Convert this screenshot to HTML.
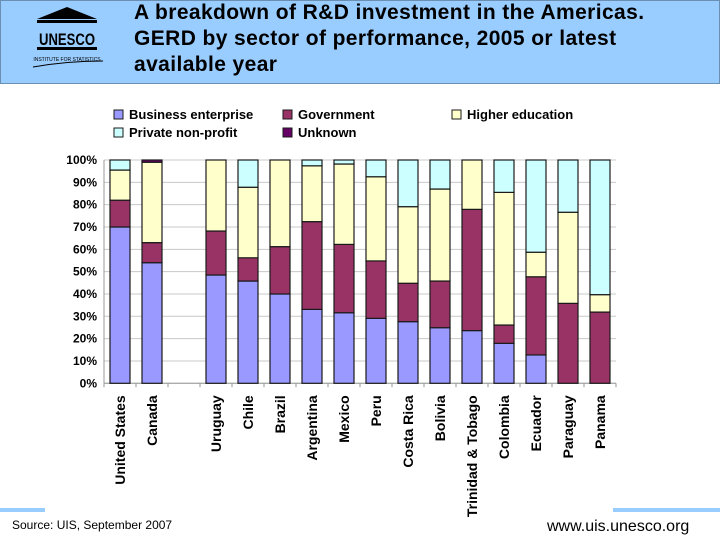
<!DOCTYPE html>
<html><head><meta charset="utf-8"><style>
body{margin:0;width:720px;height:540px;background:#fff;overflow:hidden;font-family:"Liberation Sans",sans-serif;position:relative}
#hdr{position:absolute;left:0;top:0;width:718px;height:82px;background:#99CCFF;border:1px solid #6b8fb3}
#title{position:absolute;left:133px;top:-1px;font-size:21px;letter-spacing:0.4px;font-weight:bold;line-height:26px;color:#000}
</style></head><body>
<div id="hdr">
<svg style="position:absolute;left:24px;top:2px" width="84" height="66" viewBox="0 0 84 66">
<polygon points="12,16 42,4 72,16" fill="#000"/><rect x="12" y="17" width="60" height="3" fill="#000"/>
<g fill="#000" font-size="17" font-family="Liberation Sans Narrow,Liberation Sans,sans-serif" font-weight="bold"><text x="14" y="42" textLength="56" lengthAdjust="spacingAndGlyphs">UNESCO</text></g>
<rect x="12" y="44" width="60" height="3" fill="#000"/>
<text x="42" y="58" font-size="5" text-anchor="middle" fill="#000">INSTITUTE FOR STATISTICS</text>
<path d="M8,64 Q42,58 78,58" stroke="#000" fill="none"/>
</svg>
<div id="title">A breakdown of R&amp;D investment in the Americas.<br>GERD by sector of performance, 2005 or latest<br>available year</div>
</div>
<div style="position:absolute;left:0;top:508px;width:45px;height:4px;background:#99CCFF"></div>
<div style="position:absolute;left:613px;top:508px;width:107px;height:4px;background:#99CCFF"></div>
<div style="position:absolute;left:12px;top:518px;font-size:12px;color:#000">Source: UIS, September 2007</div>
<div style="position:absolute;left:547px;top:518px;font-size:16px;color:#000">www.uis.unesco.org</div>
<svg id="chart" style="position:absolute;left:0;top:0" width="720" height="540"></svg>
<script>
const categories=["United States","Canada","","Uruguay","Chile","Brazil","Argentina","Mexico","Peru","Costa Rica","Bolivia","Trinidad & Tobago","Colombia","Ecuador","Paraguay","Panama"];
const business=[70,54,0,48.5,45.8,40,33.1,31.6,29.1,27.6,24.9,23.6,17.9,12.7,0,0];
const government=[12,9,0,19.7,10.4,21.2,39.3,30.6,25.7,17.2,20.9,54.3,8.2,35,35.8,31.9];
const higher=[13.5,36,0,31.8,31.6,38.8,25,36,37.7,34.3,41.2,22.1,59.4,11,40.8,7.8];
const privateNP=[4.5,0,0,0,12.2,0,2.6,1.8,7.5,20.9,13,0,14.5,41.3,23.4,60.3];
const unknown=[0,1,0,0,0,0,0,0,0,0,0,0,0,0,0,0];
const yTicks=[0,10,20,30,40,50,60,70,80,90,100];
const seriesNames=["Business enterprise","Government","Higher education","Private non-profit","Unknown"];
const svg=document.getElementById('chart');const NS='http://www.w3.org/2000/svg';
const X0=104,X1=616,Y0=383.3,Y1=160;
const slot=(X1-X0)/categories.length;
const y=v=>Y0-(Y0-Y1)*v/100;
const xc=i=>X0+slot*(i+0.5);
function mk(t,a,p){const e=document.createElementNS(NS,t);for(const k in a)e.setAttribute(k,a[k]);(p||svg).appendChild(e);return e;}
const g=mk('g',{});


yTicks.forEach(t=>{
 const l=mk('line',{x1:X0,x2:X1,y1:y(t),y2:y(t),stroke:'#c8c8c8','stroke-width':1},g);
 const tx=mk('text',{x:97,y:y(t)+4,'text-anchor':'end','font-size':12,'font-weight':'bold','font-family':'Liberation Sans,sans-serif'});
 tx.textContent=t+'%';
 
 
});
const ax=mk('line',{x1:X0,x2:X0,y1:Y1,y2:Y0,stroke:'#999'});


const bx=mk('line',{x1:X0,x2:X1,y1:Y0,y2:Y0,stroke:'#999'});


for(let i=0;i<=categories.length;i++){mk('line',{x1:X0+slot*i,x2:X0+slot*i,y1:Y0,y2:Y0+4,stroke:'#999'});}
const colors=['#9999FF','#993366','#FFFFCC','#CCFFFF','#660066'];
const series=[business,government,higher,privateNP,unknown];
const bw=20;
categories.forEach((c,i)=>{
 let cum=0;
 series.forEach((s,k)=>{
  const v=s[i];if(v<=0)return;
  const r=mk('rect',{x:xc(i)-bw/2,y:y(cum+v),width:bw,height:y(cum)-y(cum+v),fill:colors[k],stroke:'#1a1a1a','stroke-width':1.2});
  
  
  cum+=v;
 });
 if(c){
  const t=mk('text',{transform:`translate(${xc(i)+5},${Y0+12}) rotate(-90)`,'text-anchor':'end','font-size':14,'font-weight':'bold','font-family':'Liberation Sans,sans-serif'});
  t.textContent=c;
  
  
 }
});
const lpos=[[119,115],[288,115],[457,115],[119,133],[288,133]];
seriesNames.forEach((n,k)=>{
 const lg=mk('g',{});
 
 
 mk('rect',{x:lpos[k][0]-5,y:lpos[k][1]-5,width:9,height:9,fill:colors[k],stroke:'#1a1a1a'},lg);
 const t=mk('text',{x:lpos[k][0]+10,y:lpos[k][1]+4,'font-size':13,'font-weight':'bold','font-family':'Liberation Sans,sans-serif'},lg);
 t.textContent=n;
});
</script>
</body></html>
